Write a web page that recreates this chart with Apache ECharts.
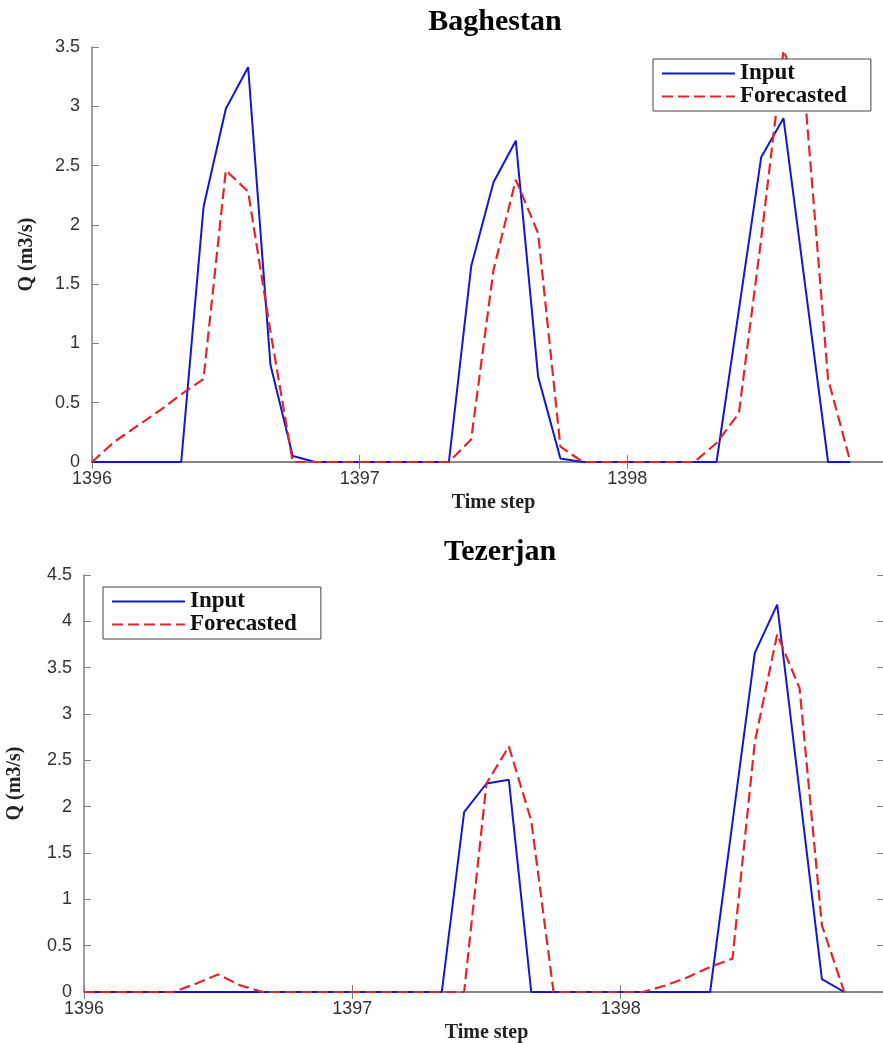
<!DOCTYPE html>
<html>
<head>
<meta charset="utf-8">
<title>Baghestan / Tezerjan</title>
<script src="https://cdn.jsdelivr.net/npm/echarts@6/dist/echarts.min.js"></script>
<style>
  html, body { margin: 0; padding: 0; background: #fff; }
  #main { width: 883px; height: 1043px; }
</style>
</head>
<body>
<div id="main"></div>
<script>
// monthly time steps, starting at 1396
var startYear = 1396;
var yearTicks = [1396, 1397, 1398];

// Baghestan station, Q (m3/s)
var baghestanInput = [0, 0, 0, 0, 0, 2.15, 2.98, 3.33, 0.82, 0.05, 0, 0, 0, 0, 0, 0, 0, 1.65, 2.36, 2.71, 0.72, 0.03, 0, 0, 0, 0, 0, 0, 0, 1.28, 2.57, 2.9, 1.45, 0, 0];
var baghestanForecast = [0, 0.17, 0.3, 0.43, 0.57, 0.7, 2.46, 2.28, 1.1, 0, 0, 0, 0, 0, 0, 0, 0, 0.19, 1.62, 2.38, 1.93, 0.13, 0, 0, 0, 0, 0, 0, 0.16, 0.41, 1.88, 3.47, 3.0, 0.7, 0];

// Tezerjan station, Q (m3/s)
var tezerjanInput = [0, 0, 0, 0, 0, 0, 0, 0, 0, 0, 0, 0, 0, 0, 0, 0, 0, 1.94, 2.25, 2.29, 0, 0, 0, 0, 0, 0, 0, 0, 0, 1.83, 3.66, 4.18, 2.16, 0.14, 0];
var tezerjanForecast = [0, 0, 0, 0, 0, 0.09, 0.19, 0.07, 0, 0, 0, 0, 0, 0, 0, 0, 0, 0, 2.25, 2.65, 1.85, 0, 0, 0, 0, 0, 0.07, 0.16, 0.27, 0.36, 2.7, 3.86, 3.28, 0.72, 0];

var serif = '"Times New Roman", "Liberation Serif", serif';
var sans = 'Arial, "Liberation Sans", Helvetica, sans-serif';
var axisGray = '#808080';
var blue = '#1616cf';
var red = '#e0262b';

function toPairs(arr) {
    return arr.map(function (v, i) { return [startYear + i / 12, v]; });
}

function xAxes(gridIndex) {
    var base = {
        type: 'value', gridIndex: gridIndex, min: 1396, max: 1399, interval: 1,
        axisLine: { show: true, lineStyle: { color: axisGray, width: 1.5 } },
        axisTick: { show: true, inside: true, length: 7, lineStyle: { color: axisGray } },
        splitLine: { show: false }
    };
    return [
        Object.assign({}, base, {
            position: 'bottom',
            axisLabel: {
                show: true, showMaxLabel: false, margin: 8, fontFamily: sans, fontSize: 18, color: '#333',
                formatter: function (v) { return yearTicks.indexOf(v) >= 0 ? String(v) : ''; }
            },
            name: 'Time step', nameLocation: 'middle', nameGap: 31,
            nameTextStyle: { fontFamily: serif, fontWeight: 'bold', fontSize: 20, color: '#222' }
        }),
        Object.assign({}, base, { position: 'top', axisLabel: { show: false } })
    ];
}

function yAxes(gridIndex, max, gap) {
    var base = {
        type: 'value', gridIndex: gridIndex, min: 0, max: max, interval: 0.5,
        axisLine: { show: true, lineStyle: { color: axisGray, width: 1.5 } },
        axisTick: { show: true, inside: true, length: 7, lineStyle: { color: axisGray } },
        splitLine: { show: false }
    };
    return [
        Object.assign({}, base, {
            position: 'left',
            axisLabel: { show: true, margin: 12, fontFamily: sans, fontSize: 18, color: '#333' },
            name: 'Q (m3/s)', nameLocation: 'middle', nameGap: gap, nameRotate: 90,
            nameTextStyle: { fontFamily: serif, fontWeight: 'bold', fontSize: 20, color: '#222' }
        }),
        Object.assign({}, base, {
            position: 'right', axisLabel: { show: false },
            axisTick: { show: true, inside: true, length: 12, lineStyle: { color: axisGray } }
        })
    ];
}

function legendFor(left, top) {
    return {
        data: ['Input', 'Forecasted'],
        orient: 'vertical', left: left, top: top,
        itemWidth: 73, itemHeight: 14, itemGap: 0,
        padding: [3, 24, 3, 8],
        borderColor: '#444', borderWidth: 1, backgroundColor: '#fff',
        selectedMode: false,
        itemStyle: { opacity: 0 },
        textStyle: { fontFamily: serif, fontWeight: 'bold', fontSize: 23, color: '#111', lineHeight: 21 }
    };
}

function lineSeries(name, data, xi, yi, isForecast) {
    return {
        name: name, type: 'line', xAxisIndex: xi, yAxisIndex: yi,
        data: toPairs(data), symbol: 'none', animation: false,
        lineStyle: isForecast
            ? { color: red, width: 2.2, type: [11, 5] }
            : { color: blue, width: 2 },
        itemStyle: { color: isForecast ? red : blue }
    };
}

var chart = echarts.init(document.getElementById('main'));
chart.setOption({
    backgroundColor: '#fff',
    animation: false,
    title: [
        { text: 'Baghestan', left: 495, top: 22, padding: 0, textAlign: 'center', textVerticalAlign: 'middle',
          textStyle: { fontFamily: serif, fontWeight: 'bold', fontSize: 30, color: '#000' } },
        { text: 'Tezerjan', left: 500, top: 552, padding: 0, textAlign: 'center', textVerticalAlign: 'middle',
          textStyle: { fontFamily: serif, fontWeight: 'bold', fontSize: 30, color: '#000' } }
    ],
    grid: [
        { left: 92, top: 47, width: 803, height: 415, containLabel: false, outerBoundsMode: 'none' },
        { left: 84, top: 575, width: 805, height: 417, containLabel: false, outerBoundsMode: 'none' }
    ],
    xAxis: xAxes(0).concat(xAxes(1)),
    yAxis: yAxes(0, 3.5, 55).concat(yAxes(1, 4.5, 59)),
    legend: [legendFor(653, 59), legendFor(103, 587)],
    series: [
        lineSeries('Input', baghestanInput, 0, 0, false),
        lineSeries('Forecasted', baghestanForecast, 0, 0, true),
        lineSeries('Input', tezerjanInput, 2, 2, false),
        lineSeries('Forecasted', tezerjanForecast, 2, 2, true)
    ]
});
</script>
</body>
</html>
